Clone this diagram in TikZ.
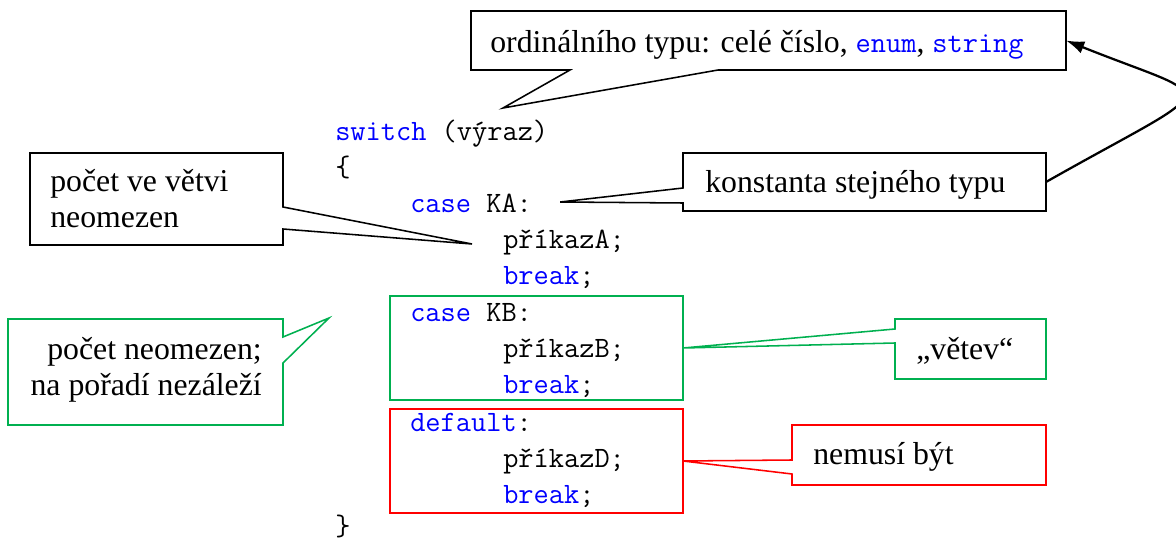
\documentclass[tikz,border=0pt]{standalone}
\usepackage{fontspec}
\setmainfont{Liberation Serif}
\usetikzlibrary{arrows.meta,calc,fit}
\definecolor{kw}{RGB}{0,0,255}
\definecolor{branch}{RGB}{0,176,80}
\definecolor{optional}{RGB}{255,0,0}
\newcommand\kwtt[1]{{\fontsize{21}{25}\ttfamily\color{kw}#1}}

\begin{document}
\begin{tikzpicture}[x=0.025cm, y=-0.025cm,
  code/.style={anchor=base west, inner sep=0pt, font=\fontsize{21}{25}\ttfamily},
  note/.style={inner sep=0pt, font=\fontsize{22.6}{25.6}\selectfont},
  box/.style={inner sep=0pt, outer sep=0pt},
  frame/.style={box, draw=#1, line width=1.2pt},
  callout/.style={line width=1.1pt, line join=miter},
]
\useasboundingbox (0,0) rectangle (1176,543);

% code lines
\foreach \x/\y/\txt [count=\i] in {
  335/141/{\textcolor{kw}{switch} (výraz)},
  335/177/{\{},
  410/213/{\textcolor{kw}{case} KA:},
  503/249/{příkazA;},
  503/285/{\textcolor{kw}{break};},
  410/322/{\textcolor{kw}{case} KB:},
  503/358/{příkazB;},
  503/394/{\textcolor{kw}{break};},
  410/431/{\textcolor{kw}{default}:},
  503/467/{příkazD;},
  503/503/{\textcolor{kw}{break};},
  335/535/{\}}
}{ \node[code] (line\i) at (\x,\y) {\txt}; }

% branch frames
\node[frame=branch, fit={(390,296) (683,400)}] (kbframe) {};
\node[frame=optional, fit={(390,409) (683,513)}] (defframe) {};

% callout boxes
\node[box, fit={(471,11) (1066,70)}] (ordbox) {};
\node[box, fit={(683,153) (1046,211)}] (konstbox) {};
\node[box, fit={(30,153) (283,245)}] (vetvibox) {};
\node[box, fit={(8,319) (283,425)}] (poradibox) {};
\node[box, fit={(895,319) (1046,379)}] (vetevbox) {};
\node[box, fit={(792,425) (1046,485)}] (nemusibox) {};

\coordinate (ordtip) at (503,108);
\coordinate (konsttip) at ($(line3.base east)+(28,-11)$);
\coordinate (vetvitip) at ($(line4.base west)+(-31,-5)$);
\coordinate (poraditip) at (329,318);

\draw[callout] (ordbox.north west) -- (ordbox.north east) -- (ordbox.south east)
  -- ($(ordbox.south west)+(247,0)$) -- (ordtip) -- ($(ordbox.south west)+(99,0)$)
  -- (ordbox.south west) -- cycle;
\draw[callout] (konstbox.north west) -- (konstbox.north east) -- (konstbox.south east)
  -- (konstbox.south west) -- ($(konstbox.north west)+(0,50)$) -- (konsttip)
  -- ($(konstbox.north west)+(0,35)$) -- cycle;
\draw[callout] (vetvibox.north west) -- (vetvibox.north east) -- ($(vetvibox.north east)+(0,54)$)
  -- (vetvitip) -- ($(vetvibox.north east)+(0,76)$) -- (vetvibox.south east)
  -- (vetvibox.south west) -- cycle;
\draw[callout, draw=branch] (poradibox.north west) -- (poradibox.north east) -- ($(poradibox.north east)+(0,18)$)
  -- (poraditip) -- ($(poradibox.north east)+(0,44)$) -- (poradibox.south east)
  -- (poradibox.south west) -- cycle;
\draw[callout, draw=branch] (vetevbox.north west) -- (vetevbox.north east) -- (vetevbox.south east)
  -- (vetevbox.south west) -- ($(vetevbox.north west)+(0,24)$) -- (kbframe.east)
  -- ($(vetevbox.north west)+(0,10)$) -- cycle;
\draw[callout, draw=optional] (nemusibox.north west) -- (nemusibox.north east) -- (nemusibox.south east)
  -- (nemusibox.south west) -- ($(nemusibox.north west)+(0,49)$) -- (defframe.east)
  -- ($(nemusibox.north west)+(0,35)$) -- cycle;

% texts
\node[note, anchor=base west] (ord) at (490,53) {ordinálního typu: celé číslo, \kwtt{enum}, \kwtt{string}};
\node[note, anchor=base west] (konst) at (705,193) {konstanta stejného typu};
\node[note, anchor=base west, align=left] (vetvi) at (50,228) {počet ve větvi\\neomezen};
\node[note, anchor=base east, align=right] (poradi) at (262,395) {počet neomezen;\\na pořadí nezáleží};
\node[note, anchor=base west] (vetev) at (916,360) {„větev“};
\node[note, anchor=base west] (nemusi) at (813,464) {nemusí být};

\draw[line width=1.6pt, -{Latex[length=13pt, width=9pt]}] (konstbox.east)
  .. controls (1226,80) and (1222,103) .. (ordbox.east);
\end{tikzpicture}
\end{document}
